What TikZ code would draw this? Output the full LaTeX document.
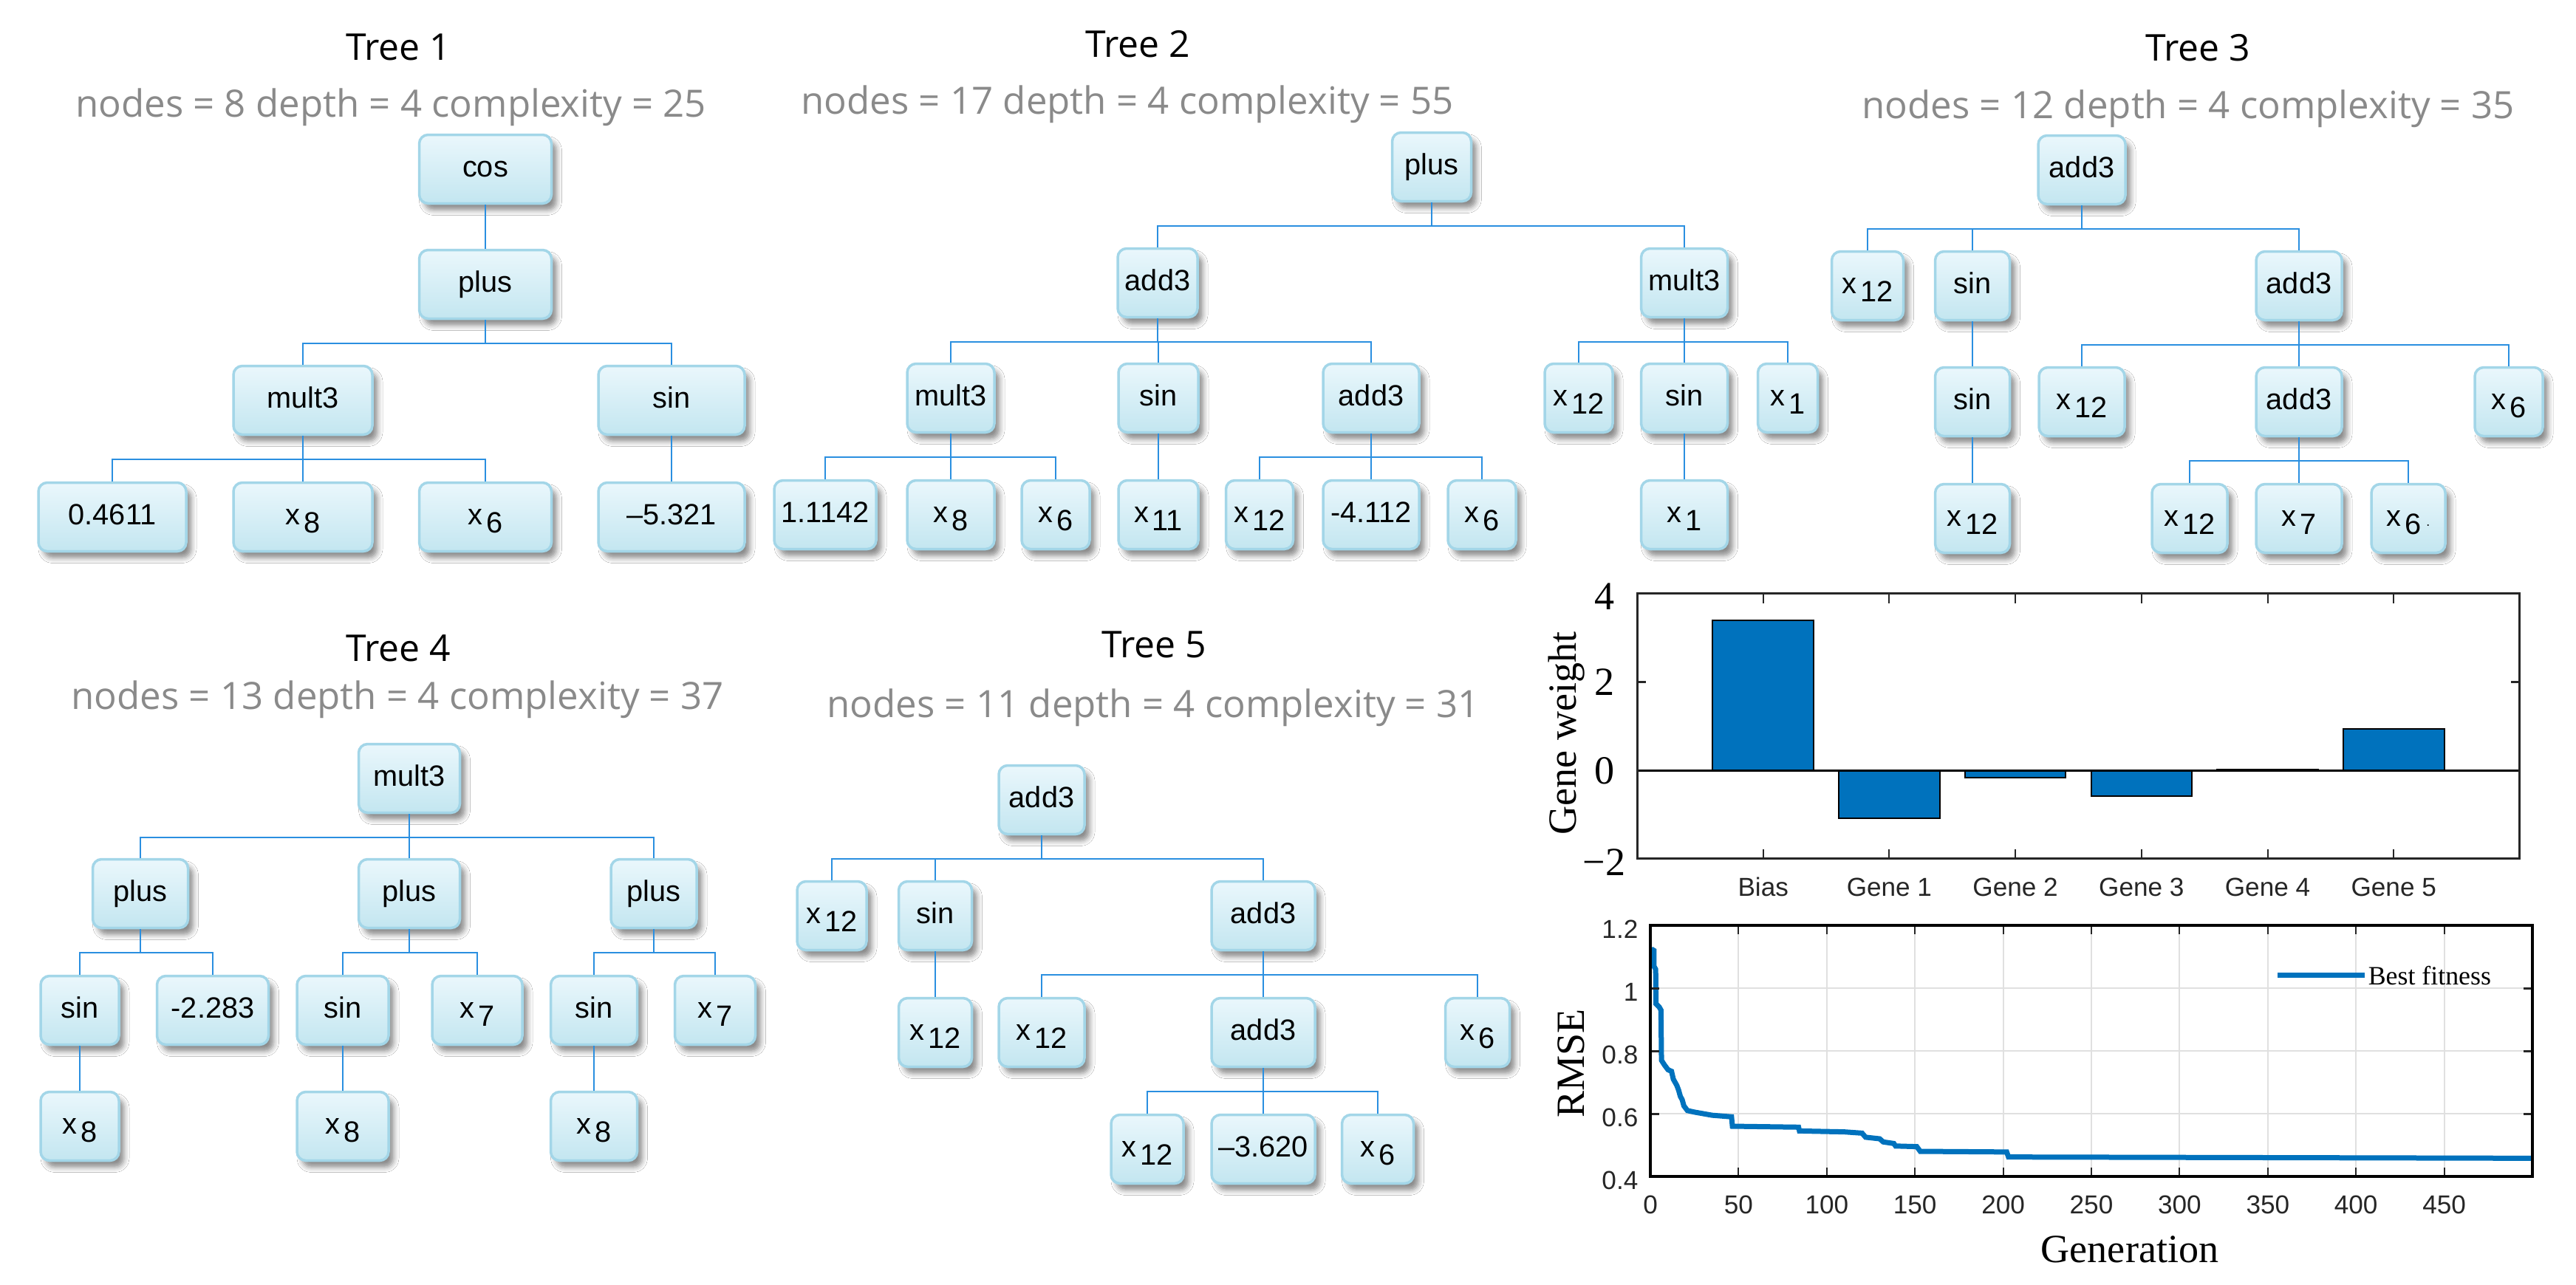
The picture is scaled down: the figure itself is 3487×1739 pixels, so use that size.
\documentclass[tikz,border=0pt]{standalone}
\usepackage{fontspec}
\setmainfont{Liberation Sans}
\newfontfamily\osans{Open Sans}
\newfontfamily\tnr{Liberation Serif}
\usetikzlibrary{shadows.blur}
\definecolor{boxtop}{HTML}{EAF7FC}
\definecolor{boxbot}{HTML}{C3E6F0}
\definecolor{boxline}{HTML}{A3D6E8}
\definecolor{connc}{HTML}{2A8FE0}
\definecolor{subgray}{HTML}{8A8A8A}
\definecolor{mblue}{HTML}{0072BD}
\definecolor{gridc}{HTML}{E0E0E0}
\definecolor{axc}{HTML}{262626}
\newcommand\xv[1]{x\hspace{0.12em}\raisebox{-0.28em}{#1}}
\newcommand\tconn[2]{%
  \draw[conn] (#1.south) -- ++(0,32) coordinate (bus#1);
  \foreach \c in {#2}{\draw[conn] (\c.north) |- (bus#1);}%
}
\begin{document}
\begin{tikzpicture}[x=0.1mm,y=-0.1mm,
  tn/.style={rectangle, rounded corners=1.2mm, draw=boxline, line width=0.35mm,
    top color=boxtop, bottom color=boxbot, minimum height=9.3mm, inner sep=0pt,
    text height=0.85em, text depth=0.25em, font=\fontsize{11.3}{13}\selectfont,
    blur shadow={shadow xshift=0.7mm, shadow yshift=-0.9mm, shadow blur radius=0.7mm, shadow opacity=45}},
  conn/.style={draw=connc, line width=0.18mm},
  ttl/.style={font=\osans\fontsize{14.2}{16}\selectfont, inner sep=0pt, anchor=base},
  sub/.style={font=\osans\fontsize{14.5}{16}\selectfont, text=subgray, inner sep=0pt, anchor=base},
  tms/.style={font=\tnr\fontsize{15.4}{17}\selectfont, inner sep=0pt},
  alab/.style={font=\fontsize{10}{12}\selectfont, text=axc, inner sep=0pt},
]
\fill[white] (0,0) rectangle (3487,1739);
\useasboundingbox (0,0) rectangle (3487,1739);

% ---------------- Tree 1
\node[ttl] (T1) at (539,81) {Tree 1};
\node[sub] (S1) at (529,158) {nodes = 8 depth = 4 complexity = 25};
\node[tn, minimum width=17.9mm] (t1a) at (657,229) {cos};
\node[tn, minimum width=17.9mm] (t1b) at (657,385) {plus};
\node[tn, minimum width=18.8mm] (t1c) at (410,542) {mult3};
\node[tn, minimum width=19.8mm] (t1d) at (909,542) {sin};
\node[tn, minimum width=20.0mm] (t1e) at (152,700) {0.4611};
\node[tn, minimum width=18.8mm] (t1f) at (410,700) {\xv{8}};
\node[tn, minimum width=17.9mm] (t1g) at (657,700) {\xv{6}};
\node[tn, minimum width=19.8mm] (t1h) at (909,700) {--5.321};
\tconn{t1a}{t1b}
\tconn{t1b}{t1c,t1d}
\tconn{t1c}{t1e,t1f,t1g}
\tconn{t1d}{t1h}

% ---------------- Tree 2
\node[ttl] (T2) at (1540,77) {Tree 2};
\node[sub] (S2) at (1526,154) {nodes = 17 depth = 4 complexity = 55};
\node[tn, minimum width=10.7mm] (t2a) at (1938,226) {plus};
\node[tn, minimum width=10.8mm] (t2b) at (1567,383) {add3};
\node[tn, minimum width=11.7mm] (t2c) at (2280,383) {mult3};
\node[tn, minimum width=11.8mm] (t2d) at (1287,539) {mult3};
\node[tn, minimum width=10.8mm] (t2e) at (1568,539) {sin};
\node[tn, minimum width=13.0mm] (t2f) at (1856,539) {add3};
\node[tn, minimum width=9.2mm] (t2g) at (2137,539) {\xv{12}};
\node[tn, minimum width=11.7mm] (t2h) at (2280,539) {sin};
\node[tn, minimum width=8.1mm] (t2i) at (2420,539) {\xv{1}};
\node[tn, minimum width=13.8mm] (t2j) at (1117,697) {1.1142};
\node[tn, minimum width=11.8mm] (t2k) at (1287,697) {\xv{8}};
\node[tn, minimum width=9.2mm] (t2l) at (1429,697) {\xv{6}};
\node[tn, minimum width=10.8mm] (t2m) at (1568,697) {\xv{11}};
\node[tn, minimum width=9.1mm] (t2n) at (1705,697) {\xv{12}};
\node[tn, minimum width=13.0mm] (t2o) at (1856,697) {-4.112};
\node[tn, minimum width=9.2mm] (t2p) at (2006,697) {\xv{6}};
\node[tn, minimum width=11.7mm] (t2q) at (2280,697) {\xv{1}};
\tconn{t2a}{t2b,t2c}
\tconn{t2b}{t2d,t2e,t2f}
\tconn{t2c}{t2g,t2h,t2i}
\tconn{t2d}{t2j,t2k,t2l}
\tconn{t2e}{t2m}
\tconn{t2f}{t2n,t2o,t2p}
\tconn{t2h}{t2q}

% ---------------- Tree 3
\node[ttl] (T3) at (2975,82) {Tree 3};
\node[sub] (S3) at (2962,160) {nodes = 12 depth = 4 complexity = 35};
\node[tn, minimum width=11.8mm] (t3a) at (2818,230) {add3};
\node[tn, minimum width=9.7mm] (t3b) at (2528,387) {\xv{12}};
\node[tn, minimum width=10.1mm] (t3c) at (2670,387) {sin};
\node[tn, minimum width=11.6mm] (t3d) at (3112,387) {add3};
\node[tn, minimum width=10.1mm] (t3e) at (2670,544) {sin};
\node[tn, minimum width=11.6mm] (t3f) at (2818,544) {\xv{12}};
\node[tn, minimum width=11.6mm] (t3g) at (3112,544) {add3};
\node[tn, minimum width=9.2mm] (t3h) at (3396,544) {\xv{6}};
\node[tn, minimum width=10.1mm] (t3i) at (2670,702) {\xv{12}};
\node[tn, minimum width=10.2mm] (t3j) at (2964,702) {\xv{12}};
\node[tn, minimum width=11.6mm] (t3k) at (3112,702) {\xv{7}};
\node[tn, minimum width=10.0mm] (t3l) at (3260,702) {\xv{6}\,{\tiny.}};
\tconn{t3a}{t3b,t3c,t3d}
\tconn{t3c}{t3e}
\tconn{t3d}{t3f,t3g,t3h}
\tconn{t3e}{t3i}
\tconn{t3g}{t3j,t3k,t3l}

% ---------------- Tree 4
\node[ttl] (T4) at (539,895) {Tree 4};
\node[sub] (S4) at (538,960) {nodes = 13 depth = 4 complexity = 37};
\node[tn, minimum width=13.7mm] (t4a) at (554,1054) {mult3};
\node[tn, minimum width=12.9mm] (t4b) at (190,1210) {plus};
\node[tn, minimum width=13.7mm] (t4c) at (554,1210) {plus};
\node[tn, minimum width=11.6mm] (t4d) at (885,1210) {plus};
\node[tn, minimum width=10.6mm] (t4e) at (108,1368) {sin};
\node[tn, minimum width=15.1mm] (t4f) at (288,1368) {-2.283};
\node[tn, minimum width=12.4mm] (t4g) at (464,1368) {sin};
\node[tn, minimum width=12.2mm] (t4h) at (646,1368) {\xv{7}};
\node[tn, minimum width=11.7mm] (t4i) at (804,1368) {sin};
\node[tn, minimum width=10.9mm] (t4j) at (968,1368) {\xv{7}};
\node[tn, minimum width=10.6mm] (t4k) at (108,1525) {\xv{8}};
\node[tn, minimum width=12.4mm] (t4l) at (464,1525) {\xv{8}};
\node[tn, minimum width=11.7mm] (t4m) at (804,1525) {\xv{8}};
\tconn{t4a}{t4b,t4c,t4d}
\tconn{t4b}{t4e,t4f}
\tconn{t4c}{t4g,t4h}
\tconn{t4d}{t4i,t4j}
\tconn{t4e}{t4k}
\tconn{t4g}{t4l}
\tconn{t4i}{t4m}

% ---------------- Tree 5
\node[ttl] (T5) at (1562,890) {Tree 5};
\node[sub] (S5) at (1561,971) {nodes = 11 depth = 4 complexity = 31};
\node[tn, minimum width=11.6mm] (t5a) at (1410,1083) {add3};
\node[tn, minimum width=9.4mm] (t5b) at (1126,1240) {\xv{12}};
\node[tn, minimum width=9.9mm] (t5c) at (1266,1240) {sin};
\node[tn, minimum width=14.0mm] (t5d) at (1710,1240) {add3};
\node[tn, minimum width=9.9mm] (t5e) at (1266,1398) {\xv{12}};
\node[tn, minimum width=11.6mm] (t5f) at (1410,1398) {\xv{12}};
\node[tn, minimum width=14.0mm] (t5g) at (1710,1398) {add3};
\node[tn, minimum width=8.7mm] (t5h) at (2000,1398) {\xv{6}};
\node[tn, minimum width=9.8mm] (t5i) at (1553,1556) {\xv{12}};
\node[tn, minimum width=14.0mm] (t5j) at (1710,1556) {--3.620};
\node[tn, minimum width=9.7mm] (t5k) at (1865,1556) {\xv{6}};
\tconn{t5a}{t5b,t5c,t5d}
\tconn{t5c}{t5e}
\tconn{t5d}{t5f,t5g,t5h}
\tconn{t5g}{t5i,t5j,t5k}

% ---------------- Bar chart
\node[tms, rotate=90] (gw) at (2121,993) {Gene weight};
\begin{scope}[shift={(2216,1043.3)}, x=17.07mm, y=5.983mm]
  \foreach \k/\v in {1/3.406, 2/-1.085, 3/-0.17, 4/-0.585, 5/0.02, 6/0.94}
    \filldraw[fill=mblue, draw=black, line width=0.2mm] (\k-0.4,0) rectangle (\k+0.4,\v);
  \draw[black, line width=0.35mm] (0,0) -- (7,0);
  \foreach \k in {1,...,6}{
    \draw[axc, line width=0.2mm] (\k,-2) -- ++(0,1.3mm);
    \draw[axc, line width=0.2mm] (\k,4) -- ++(0,-1.3mm);
  }
  \draw[axc, line width=0.3mm] (0,2) -- ++(1.2mm,0);
  \draw[axc, line width=0.3mm] (7,2) -- ++(-1.2mm,0);
  \draw[axc, line width=0.3mm] (0,-2) rectangle (7,4);
  \node[tms, anchor=east, xshift=-3mm, yshift=-0.4mm] (by4) at (0,4) {4};
  \node[tms, anchor=east, xshift=-3mm] (by2) at (0,2) {2};
  \node[tms, anchor=east, xshift=-3mm] (by0) at (0,0) {0};
  \node[tms, anchor=east, xshift=-1.5mm, yshift=-0.5mm] (bym) at (0,-2) {−2};
  \foreach \k/\t in {1/Bias, 2/Gene 1, 3/Gene 2, 4/Gene 3, 5/Gene 4, 6/Gene 5}
    \node[alab, yshift=-3.8mm] (bx\k) at (\k,-2) {\t};
\end{scope}

% ---------------- RMSE chart
\node[tms, rotate=90] (rl) at (2127,1440) {RMSE};
\node[tms] (gl) at (2883,1692) {Generation};
\begin{scope}[shift={(2234,1763)}, x=0.2388mm, y=42.5mm]
  \foreach \g in {50,100,...,450}
    \draw[gridc, line width=0.2mm] (\g,0.4) -- (\g,1.2);
  \foreach \r in {0.6,0.8,1.0}
    \draw[gridc, line width=0.2mm] (0,\r) -- (500,\r);
  \draw[mblue, line width=0.7mm, line join=miter]
    (0.5,1.125) -- (2,1.12) -- (2,1.07) -- (3,1.06) -- (3.2,0.95) -- (5,0.94) -- (6,0.93)
    -- (6.3,0.77) -- (8,0.755) -- (10,0.74) -- (12,0.735) -- (13,0.71) -- (15,0.69)
    -- (16,0.675) -- (17,0.655) -- (18,0.645) -- (19,0.625) -- (21,0.61) -- (25,0.605)
    -- (35,0.595) -- (46,0.59) -- (46.5,0.56) -- (84,0.557) -- (84.5,0.545) -- (110,0.542)
    -- (120,0.538) -- (122,0.525) -- (130,0.52) -- (132,0.51) -- (138,0.505) -- (139,0.497)
    -- (151,0.495) -- (153,0.48) -- (202,0.478) -- (203,0.462) -- (500,0.458);
  \foreach \g in {0,50,...,500}{
    \draw[axc, line width=0.2mm] (\g,0.4) -- ++(0,1.2mm);
    \draw[axc, line width=0.2mm] (\g,1.2) -- ++(0,-1.2mm);
  }
  \foreach \r in {0.6,0.8,1.0}{
    \draw[axc, line width=0.3mm] (0,\r) -- ++(1.2mm,0);
    \draw[axc, line width=0.3mm] (500,\r) -- ++(-1.2mm,0);
  }
  \draw[black, line width=0.35mm] (0,0.4) rectangle (500,1.2);
  \foreach \g in {0,50,...,450}
    \node[alab, yshift=-3.8mm] (rx\g) at (\g,0.4) {\g};
  \foreach \r/\t in {0.4/0.4, 0.6/0.6, 0.8/0.8, 1.0/1, 1.2/1.2}
    \node[alab, anchor=east, xshift=-1.6mm, yshift=-0.5mm] (ry\t) at (0,\r) {\t};
\end{scope}
\coordinate (lgA) at (3083,1320);
\coordinate (lgB) at (3201,1320);
\draw[mblue, line width=0.7mm] (lgA) -- (lgB);
\node[font=\tnr\fontsize{10.2}{12}\selectfont, anchor=base west, inner sep=0pt] (lgT) at (3205,1333) {Best fitness};
\end{tikzpicture}
\end{document}
